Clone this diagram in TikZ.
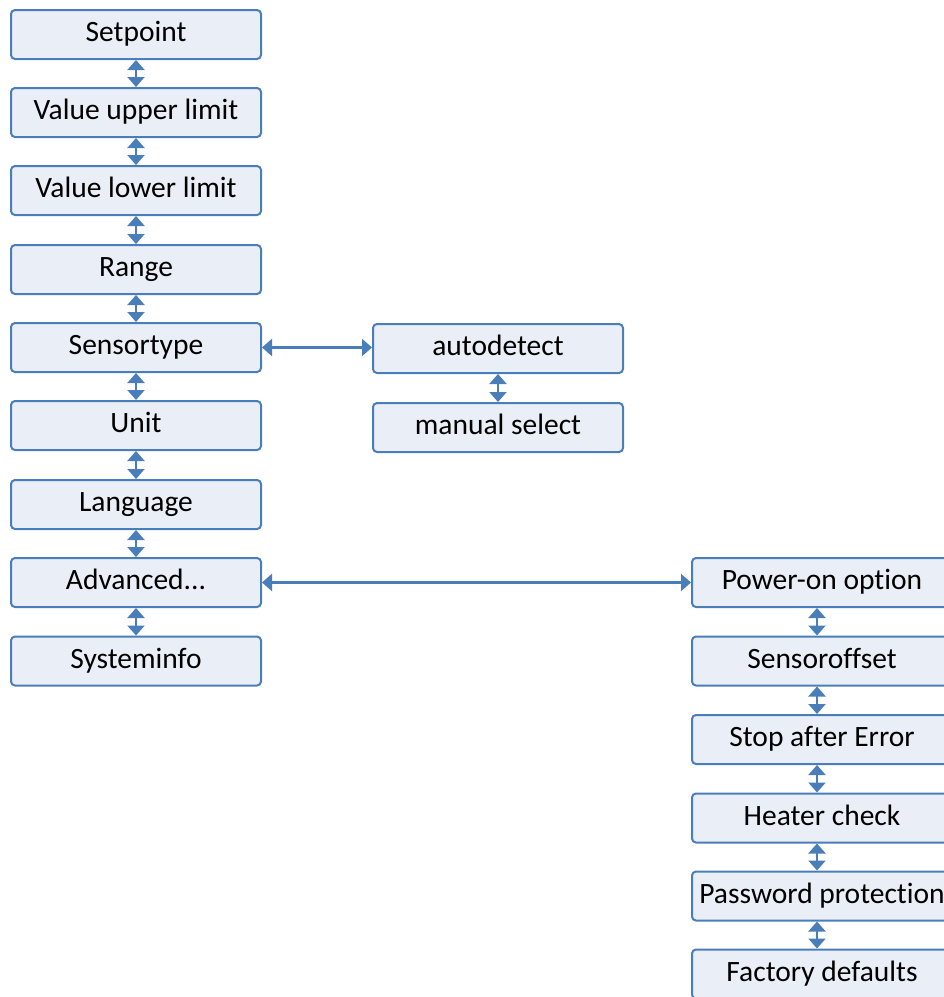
\documentclass[tikz,border=0pt]{standalone}
\usepackage{fontspec}
\setmainfont[Ligatures=NoCommon]{Carlito}
\usetikzlibrary{arrows.meta}
\definecolor{bordc}{HTML}{4A7EBB}
\definecolor{fillc}{HTML}{EAEFF7}
\tikzset{
  menubox/.style={draw=bordc, fill=fillc, line width=2pt, rounded corners=4pt,
    minimum width=250pt, minimum height=49pt, inner sep=0pt, text=black,
    text height=19pt, text depth=5pt,
    font=\fontsize{29.5}{34}\selectfont},
  widebox/.style={menubox, minimum width=260pt},
  link/.style={draw=bordc, line width=2.2pt, {Triangle[width=17pt,length=10pt]}-{Triangle[width=17pt,length=10pt]}}
}
\begin{document}
\begin{tikzpicture}[x=1pt,y=-1pt]
\useasboundingbox (0,0) rectangle (944,997);
\node[menubox] (sp) at (136,34.5) {Setpoint};
\node[menubox] (vu) at (136,112.5) {Value upper limit};
\node[menubox] (vl) at (136,190.5) {Value lower limit};
\node[menubox] (rg) at (136,269.5) {Range};
\node[menubox] (st) at (136,347.5) {Sensortype};
\node[menubox] (un) at (136,425.5) {Unit};
\node[menubox] (lg) at (136,504.5) {Language};
\node[menubox] (ad) at (136,582.5) {Advanced.{}.{}.};
\node[menubox] (si) at (136,661) {Systeminfo};
\node[menubox] (au) at (498,348.5) {autodetect};
\node[menubox] (ms) at (498,427.5) {manual select};
\node[widebox] (po) at (822,582.5) {Power-on option};
\node[widebox] (so) at (822,661) {Sensoroffset};
\node[widebox] (se) at (822,739.5) {Stop after Error};
\node[widebox] (hc) at (822,818) {Heater check};
\node[widebox] (pp) at (822,896) {Password protection};
\node[widebox] (fd) at (822,974) {Factory defaults};
\foreach \a/\b in {sp/vu,vu/vl,vl/rg,rg/st,st/un,un/lg,lg/ad,ad/si,au/ms}
  \draw[link] (\a.south) -- (\b.north);
\foreach \a/\b in {po/so,so/se,se/hc,hc/pp,pp/fd}
  \draw[link] ([xshift=-5pt]\a.south) -- ([xshift=-5pt]\b.north);
\draw[link] (st.east) -- (st.east -| au.west);
\draw[link] (ad.east) -- (po.west);
\end{tikzpicture}
\end{document}
